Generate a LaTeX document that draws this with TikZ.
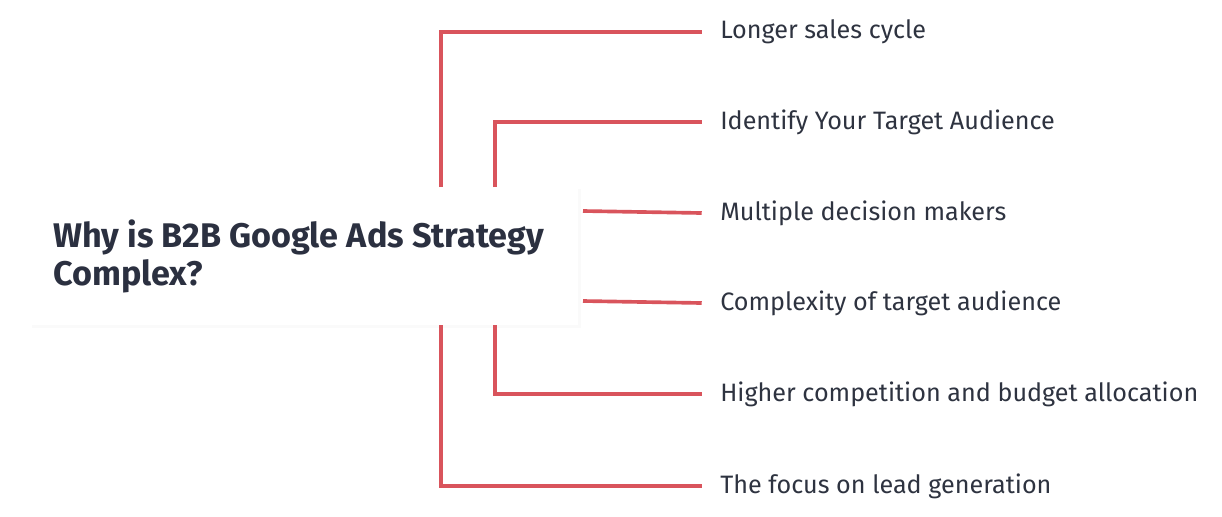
\documentclass[tikz,border=0pt]{standalone}
\usepackage{fontspec}
\setmainfont{Fira Sans}
\usetikzlibrary{positioning}
\definecolor{branchred}{HTML}{D9545C}
\definecolor{titleink}{HTML}{2B3040}
\definecolor{itemink}{HTML}{2E3340}
\tikzset{
  branch/.style={draw=branchred, line width=2.6pt},
  item/.style={anchor=west, inner sep=0pt, text=itemink, font=\fontsize{17.9}{20}\selectfont},
}
\begin{document}
\begin{tikzpicture}[x=0.025cm, y=-0.025cm]
\useasboundingbox[fill=white] (0,0) rectangle (1222,516);
% central card
\fill[black!2] (32,189) rectangle (581,328);
\fill[white] (30,187) rectangle (578,325);
\node[anchor=north west, align=left, inner sep=0pt, text=titleink,
      font=\bfseries\fontsize{24.3}{27.5}\selectfont] (title) at (53,219)
  {Why is B2B Google Ads Strategy\\Complex?};

% items
\node[item] (cycle)    at (720,32)  {Longer sales cycle};
\node[item] (audience) at (720,122) {Identify Your Target Audience};
\node[item] (makers)   at (720,213) {Multiple decision makers};
\node[item] (complex)  at (720,303) {Complexity of target audience};
\node[item] (budget)   at (720,394) {Higher competition and budget allocation};
\node[item] (leads)    at (720,486) {The focus on lead generation};

% branch roots
\coordinate (r1) at (441,187);
\coordinate (r2) at (495,187);
\coordinate (r3) at (583,211);
\coordinate (r4) at (583,301);
\coordinate (r5) at (495,325);
\coordinate (r6) at (441,325);

\draw[branch] (r1) |- ([xshift=-13]cycle.west);
\draw[branch] (r2) |- ([xshift=-13]audience.west);
\draw[branch] (r3) -- ([xshift=-13]makers.west);
\draw[branch] (r4) -- ([xshift=-13]complex.west);
\draw[branch] (r5) |- ([xshift=-13]budget.west);
\draw[branch] (r6) |- ([xshift=-13]leads.west);
\end{tikzpicture}
\end{document}
